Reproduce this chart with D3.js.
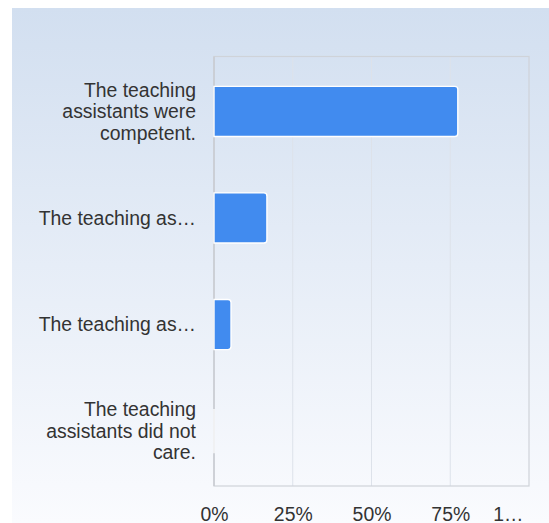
<!DOCTYPE html>
<html>
<head>
<meta charset="utf-8">
<script src="https://cdn.jsdelivr.net/npm/d3@7"></script>
<style>
  html, body { margin: 0; padding: 0; background: #ffffff; }
  svg { display: block; }
  text { font-family: "Liberation Sans", Arial, sans-serif; }
</style>
</head>
<body>
<svg id="chart" width="549" height="523"></svg>
<script>
// Survey statements (as wrapped / truncated on the axis) and share of answers
const categories = [
  ["The teaching", "assistants were", "competent."],
  ["The teaching as…"],
  ["The teaching as…"],
  ["The teaching", "assistants did not", "care."]
];
const shares = [0.774, 0.168, 0.054, 0];
const tickValues = [0, 0.25, 0.5, 0.75, 1];
const tickLabels = ["0%", "25%", "50%", "75%", "1…"];

const svg = d3.select("#chart");
const W = 549, H = 523;

// Panel background gradient
const defs = svg.append("defs");
const grad = defs.append("linearGradient")
  .attr("id", "bg").attr("x1", 0).attr("y1", 0).attr("x2", 0).attr("y2", 1);
grad.append("stop").attr("offset", "0%").attr("stop-color", "#d2dff0");
grad.append("stop").attr("offset", "100%").attr("stop-color", "#fafbfe");
svg.append("rect")
  .attr("x", 12).attr("y", 8).attr("width", W - 12).attr("height", H - 8)
  .attr("fill", "url(#bg)");

const plot = { left: 214, right: 529, top: 56.5, bottom: 486 };

const x = d3.scaleLinear().domain([0, 1]).range([plot.left, plot.right]);
const y = d3.scaleBand()
  .domain(d3.range(categories.length))
  .range([plot.top, plot.bottom])
  .paddingInner(0.53)
  .paddingOuter(0.28);

// Vertical gridlines
svg.append("g")
  .selectAll("line")
  .data(tickValues.slice(1, -1))
  .join("line")
  .attr("x1", d => x(d)).attr("x2", d => x(d))
  .attr("y1", plot.top).attr("y2", plot.bottom)
  .attr("stroke", "#dde2ea").attr("stroke-width", 1);

// Plot frame
svg.append("rect")
  .attr("x", plot.left).attr("y", plot.top)
  .attr("width", plot.right - plot.left).attr("height", plot.bottom - plot.top)
  .attr("fill", "none").attr("stroke", "#cfd3d9").attr("stroke-width", 1.2);

// Baseline at 0%
svg.append("line")
  .attr("x1", x(0)).attr("x2", x(0))
  .attr("y1", plot.top).attr("y2", plot.bottom)
  .attr("stroke", "#c8cbd0").attr("stroke-width", 1.4);

// Bars, square on the left and rounded on the right
function barPath(x0, x1, y0, h, r) {
  const w = x1 - x0;
  const rr = Math.min(r, w / 2, h / 2);
  if (w <= 0) {
    return `M${x0},${y0 + r}L${x0},${y0 + h - r}`;
  }
  return `M${x0},${y0}H${x1 - rr}Q${x1},${y0} ${x1},${y0 + rr}` +
         `V${y0 + h - rr}Q${x1},${y0 + h} ${x1 - rr},${y0 + h}H${x0}Z`;
}

svg.append("g")
  .selectAll("path")
  .data(shares)
  .join("path")
  .attr("d", (d, i) => barPath(x(0), x(d), y(i), y.bandwidth(), 3))
  .attr("fill", "#418bef")
  .attr("stroke", "#ffffff")
  .attr("stroke-width", 1.4);

// Category labels
const fontSize = 19.4;
const lineH = 21.5;
const labels = svg.append("g")
  .attr("fill", "#333333")
  .attr("font-size", fontSize)
  .attr("text-anchor", "end");

categories.forEach((lines, i) => {
  const cy = y(i) + y.bandwidth() / 2;
  const t = labels.append("text")
    .attr("x", 196)
    .attr("y", cy - (lines.length - 1) * lineH / 2);
  lines.forEach((ln, j) => {
    t.append("tspan")
      .attr("x", 196)
      .attr("dy", j === 0 ? "0.35em" : lineH)
      .text(ln);
  });
});

// Percentage axis
const axis = d3.axisBottom(x)
  .tickValues(tickValues)
  .tickFormat((d, i) => tickLabels[i])
  .tickSize(0)
  .tickPadding(0);

const ax = svg.append("g")
  .attr("transform", `translate(0,${plot.bottom})`)
  .call(axis);
ax.select(".domain").remove();
ax.selectAll("text")
  .attr("font-size", fontSize)
  .attr("fill", "#333333")
  .attr("font-family", "'Liberation Sans', Arial, sans-serif")
  .attr("dy", null)
  .attr("y", 35);
ax.selectAll(".tick").filter((d, i) => i === tickValues.length - 1)
  .select("text")
  .attr("text-anchor", "end")
  .attr("dx", -6);
</script>
</body>
</html>
